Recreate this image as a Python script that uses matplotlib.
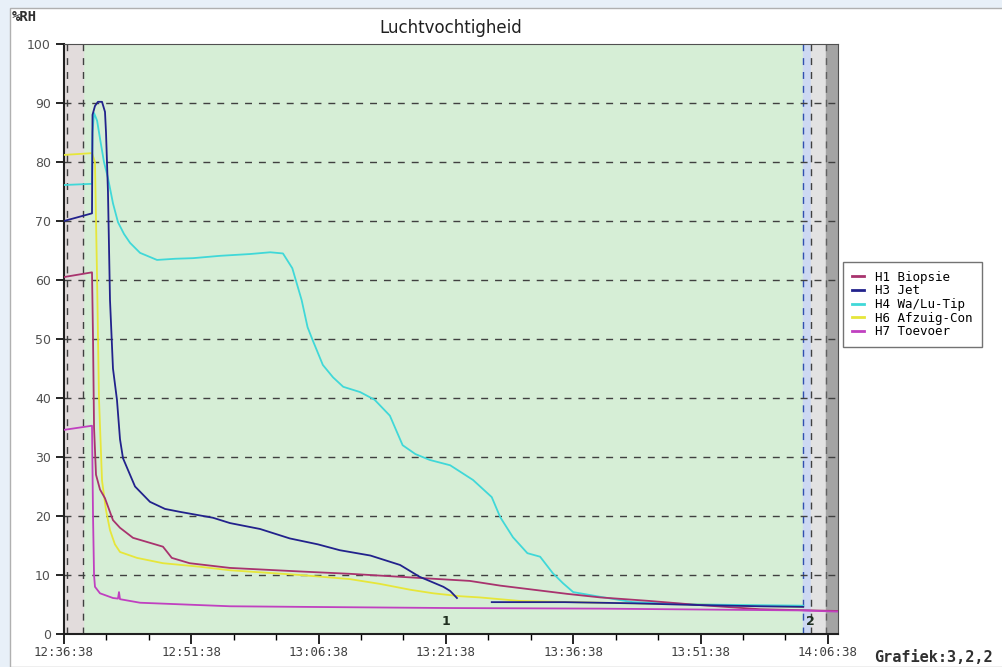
import matplotlib.pyplot as plt
from matplotlib.patches import Rectangle
from matplotlib.ticker import MultipleLocator, FuncFormatter

# tijd in minuten na 12:36:38
start_h, start_m, start_s = 12, 36, 38

h1_t = [0, 3.3, 3.42, 3.54, 3.77, 4.24, 4.83, 5.77, 6.6, 8.13, 10.96, 11.66, 12.1, 12.7, 14.8,
        19.56, 27.8, 33.7, 41.9, 47.8, 51.4, 59.3, 63.2, 69.0, 74.9, 82.0, 91.2]
h1_v = [60.5, 61.3, 50, 35, 27, 24.5, 23, 19.3, 18, 16.3, 15.1, 14.8, 14.0, 12.9, 12,
        11.2, 10.6, 10.2, 9.5, 9.0, 8.2, 6.8, 6.2, 5.6, 4.9, 4.2, 3.9]

h3_t = [0, 3.3, 3.36, 3.65, 4.0, 4.48, 4.83, 4.95, 5.18, 5.42, 5.77, 6.24, 6.6, 6.95, 7.54, 8.37,
        10.13, 11.9, 13.67, 17.56, 19.56, 23.1, 26.6, 29.9, 32.5, 36.1, 39.6, 41.9, 44.7, 45.5, 46.3,
        46.4, 50.4, 59.0, 67.0, 74.9, 82.0, 87.1]
h3_v = [70, 71.3, 88, 89.5, 90.2, 90.2, 88.5, 85, 75, 56.6, 45, 39.7, 33, 29.8, 27.8, 25,
        22.4, 21.2, 20.7, 19.7, 18.8, 17.8, 16.2, 15.2, 14.2, 13.3, 11.7, 9.7, 8, 7.3, 6.1,
        None, 5.4, 5.4, 5.2, 4.9, 4.7, 4.6]

h4_t = [0, 3.3, 3.36, 3.54, 3.9, 4.24, 4.71, 5.18, 5.77, 6.36, 7.07, 7.78, 8.96, 10.96, 13.1, 15.2,
        18.4, 21.9, 24.3, 25.8, 26.9, 28.0, 28.7, 29.3, 30.5, 31.7, 32.9, 34.9, 36.6, 38.4, 39.9,
        41.4, 43.1, 45.5, 48.2, 50.4, 51.4, 52.9, 54.6, 56.1, 57.6, 58.8, 60.0, 63.2, 67.0, 74.9, 87.1]
h4_v = [76.1, 76.3, 85, 88.3, 87, 84, 80, 77.3, 73, 69.8, 67.8, 66.3, 64.6, 63.4, 63.6, 63.7,
        64.1, 64.4, 64.7, 64.5, 62, 56.6, 52, 49.8, 45.6, 43.5, 41.9, 41, 39.7, 37, 32,
        30.5, 29.5, 28.6, 26.1, 23.2, 19.8, 16.4, 13.7, 13.1, 10.3, 8.6, 7.1, 6.3, 5.4, 5.0, 4.8]

h6_t = [0, 3.3, 3.65, 3.9, 4.12, 4.48, 4.95, 5.42, 6.0, 6.6, 8.6, 11.66, 16.0, 19.56, 27.8, 33.7,
        37.2, 40.8, 43.5, 46.7, 49.0, 53.7, 63.2, 74.9, 87.1]
h6_v = [81.2, 81.5, 80, 60, 40, 26, 21, 17.6, 15.2, 13.9, 12.9, 12, 11.4, 10.8, 10, 9.3,
        8.5, 7.5, 6.9, 6.4, 6.2, 5.6, 5.3, 5.0, 4.6]

h7_t = [0, 3.3, 3.42, 3.54, 3.65, 4.24, 5.77, 6.36, 6.48, 6.6, 8.96, 16.0, 19.56, 27.8, 45.5,
        63.2, 86.7, 91.2]
h7_v = [34.6, 35.3, 20, 10, 8, 6.9, 6.1, 6.0, 7.1, 5.9, 5.3, 4.9, 4.7, 4.6, 4.4,
        4.3, 4.0, 3.8]

series = [
    ('H1 Biopsie', h1_t, h1_v, '#a8336e'),
    ('H3 Jet', h3_t, h3_v, '#22228c'),
    ('H4 Wa/Lu-Tip', h4_t, h4_v, '#40d8d8'),
    ('H6 Afzuig-Con', h6_t, h6_v, '#e6e63a'),
    ('H7 Toevoer', h7_t, h7_v, '#c040c0'),
]
draw_order = [3, 2, 0, 4, 1]


def tijd(x, pos=None):
    tot = start_h * 3600 + start_m * 60 + start_s + int(round(x * 60))
    return '%02d:%02d:%02d' % (tot // 3600, (tot // 60) % 60, tot % 60)


fig = plt.figure(figsize=(10.03, 6.67), dpi=100)
fig.patch.set_facecolor('#e8f0f8')
fig.patches.append(Rectangle((10 / 1003, 0), 1, 1 - 8 / 667, transform=fig.transFigure,
                             facecolor='white', edgecolor='#b0b0b0', lw=1, zorder=-10))

ax = fig.add_axes([64 / 1003, 1 - 634 / 667, (838 - 64) / 1003, 590 / 667])
ax.set_facecolor('#d6eed6')
ax.set_xlim(0, 91.2)
ax.set_ylim(0, 100)

# gebieden links en rechts
ax.axvspan(0, 2.24, color='#e2dcdc', zorder=0)
ax.axvspan(87.1, 88.0, color='#ccd8f2', zorder=0)
ax.axvspan(88.0, 89.8, color='#e2e2e2', zorder=0)
ax.axvspan(89.8, 91.2, color='#a4a4a4', zorder=0)
for xv, c in [(0.3, '#404040'), (2.24, '#404040'), (87.1, '#3050b0'), (88.0, '#404040'), (89.8, '#606060')]:
    ax.axvline(xv, color=c, lw=1, ls=(0, (5, 5)), zorder=1)
for yv in range(10, 100, 10):
    ax.axhline(yv, color='#404040', lw=1, ls=(0, (5, 5)), zorder=1)

for i in draw_order:
    naam, t, v, c = series[i]
    vv = [float('nan') if a is None else a for a in v]
    ax.plot(t, vv, color=c, lw=1.3, zorder=3)

ax.text(45.0, 1.0, '1', fontsize=9, fontweight='bold', color='#203020', ha='center', va='bottom')
ax.text(87.9, 1.0, '2', fontsize=9, fontweight='bold', color='#203020', ha='center', va='bottom')

ax.xaxis.set_major_locator(MultipleLocator(15))
ax.xaxis.set_minor_locator(MultipleLocator(5))
ax.xaxis.set_major_formatter(FuncFormatter(tijd))
ax.yaxis.set_major_locator(MultipleLocator(10))
ax.tick_params(axis='x', which='major', length=7, width=1.2, labelsize=9, labelcolor='#404040', pad=2)
ax.tick_params(axis='x', which='minor', length=4, width=1)
ax.tick_params(axis='y', length=6, width=1.2, labelsize=9, labelcolor='#505050')
for lab in ax.get_xticklabels():
    lab.set_family('DejaVu Sans Mono')
for s in ['left', 'bottom']:
    ax.spines[s].set_linewidth(1.5)
    ax.spines[s].set_color('#202020')
for s in ['top', 'right']:
    ax.spines[s].set_color('#505050')

fig.text(451 / 1003, 1 - 28 / 667, 'Luchtvochtigheid', ha='center', va='center', fontsize=12, color='#202020')
fig.text(12 / 1003, 1 - 17 / 667, '%RH', ha='left', va='center', fontsize=10, fontweight='bold',
         family='DejaVu Sans Mono', color='#303030')
fig.text(874 / 1003, 1 - 657 / 667, 'Grafiek:3,2,2', ha='left', va='center', fontsize=11, fontweight='bold',
         family='DejaVu Sans Mono', color='#303030')

handles = [plt.Line2D([], [], color=c, lw=2) for _, _, _, c in series]
leg = fig.legend(handles, [s[0] for s in series], loc='upper left', bbox_to_anchor=(843 / 1003, 1 - 262 / 667),
                 prop={'family': 'DejaVu Sans Mono', 'size': 9}, fancybox=False, frameon=True,
                 handlelength=1.0, labelspacing=0.05, borderpad=0.7, handletextpad=0.9, borderaxespad=0)
leg.get_frame().set_edgecolor('#505050')
leg.get_frame().set_linewidth(1)

fig.savefig('out.png', dpi=100, facecolor=fig.get_facecolor())
